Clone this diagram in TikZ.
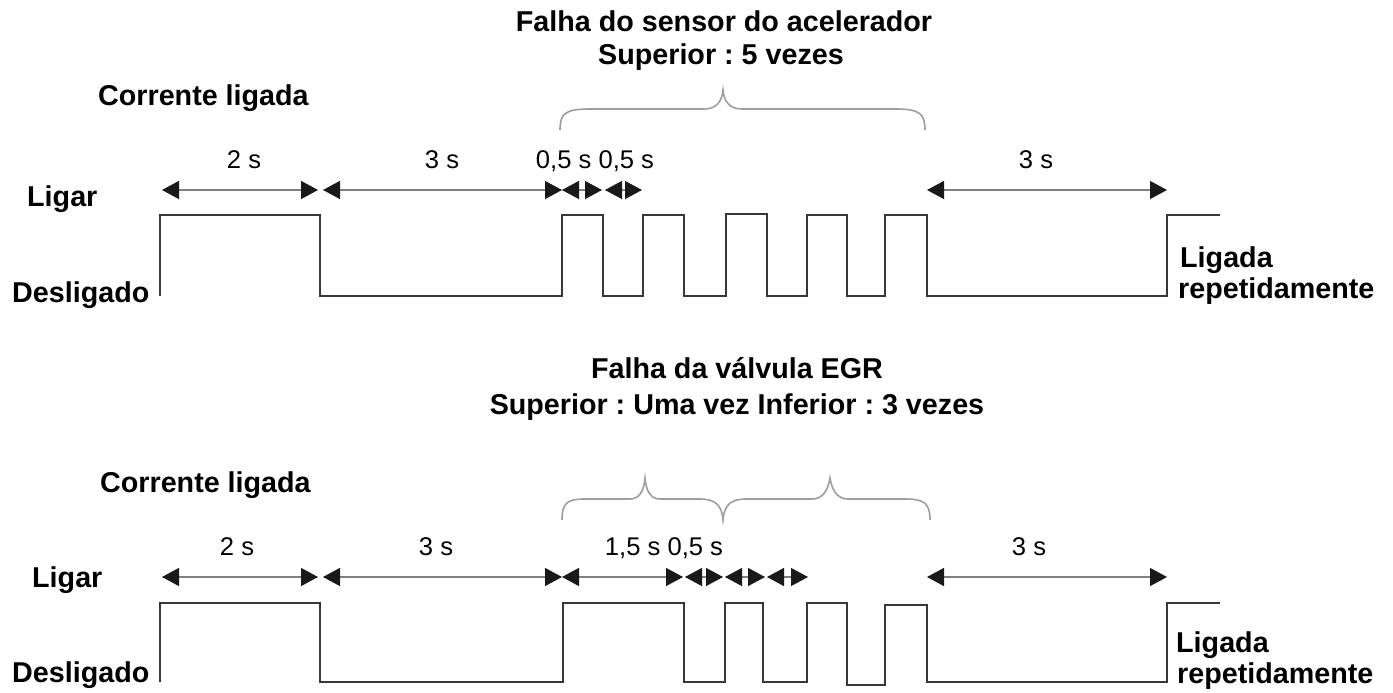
\documentclass[tikz,border=0pt]{standalone}
\usepackage{fontspec}
\setmainfont{Liberation Sans}
\frenchspacing
\usetikzlibrary{arrows.meta}
\tikzset{
  boldlbl/.style={font=\fontsize{28.7}{31}\selectfont\bfseries, inner sep=0pt, anchor=base west},
  titlelbl/.style={font=\fontsize{28.7}{31}\selectfont\bfseries, inner sep=0pt, anchor=base},
  durlbl/.style={font=\fontsize{25.6}{28}\selectfont, inner sep=0pt, anchor=base},
  dimline/.style={draw=black!50, line width=1.3pt,
    {Triangle[length=17pt,width=18pt,color=black!90]}-{Triangle[length=17pt,width=18pt,color=black!90]}},
  wave/.style={draw=black!78, line width=2.6pt, line join=miter},
  bracecurve/.style={draw=black!38, line width=1.6pt},
}
\begin{document}
\begin{tikzpicture}[x=1pt,y=-1pt]
\useasboundingbox[fill=white] (0,0) rectangle (1393,693);

% ================= TOP DIAGRAM =================
\node[titlelbl] (t1) at (724,32) {Falha do sensor do acelerador};
\node[titlelbl] (t2) at (721,65) {Superior : 5 vezes};
\node[boldlbl] (tcor) at (98,106) {Corrente ligada};
\node[boldlbl] (tlig) at (27,206) {Ligar};
\node[boldlbl] (tdes) at (12,302) {Desligado};
\node[boldlbl] (tlr1) at (1180,267) {Ligada};
\node[boldlbl] (tlr2) at (1178,298) {repetidamente};

\node[durlbl] (td1) at (244,168) {2 s};
\node[durlbl] (td2) at (442,168) {3 s};
\node[durlbl] (td3) at (595,168) {0,5 s 0,5 s};
\node[durlbl] (td4) at (1036,168) {3 s};

% dimension arrows
\coordinate (ta0) at (162,190);
\coordinate (ta1) at (318,190);
\coordinate (ta2) at (323,190);
\coordinate (ta3) at (562,190);
\coordinate (ta4) at (602,190);
\coordinate (ta5) at (605,190);
\coordinate (ta6) at (642,190);
\coordinate (ta7) at (927,190);
\coordinate (ta8) at (1167,190);
\draw[dimline] (ta0) -- (ta1);
\draw[dimline] (ta2) -- (ta3);
\draw[dimline] (ta3) -- (ta4);
\draw[dimline] (ta5) -- (ta6);
\draw[dimline] (ta7) -- (ta8);

% brace
\draw[bracecurve] (560,130) .. controls (560,113) and (566,109) .. (590,109)
  -- (704,109) .. controls (717,109) and (722,101) .. (723,90)
  .. controls (724,101) and (729,109) .. (742,109)
  -- (895,109) .. controls (919,109) and (925,113) .. (925,130);

% waveform
\draw[wave] (160,296) -- (160,215) -- (320,215) -- (320,296) -- (562,296)
  -- (562,215) -- (603,215) -- (603,296) -- (643,296) -- (643,215)
  -- (684,215) -- (684,296) -- (726,296) -- (726,214) -- (767,214)
  -- (767,296) -- (807,296) -- (807,215) -- (847,215) -- (847,296)
  -- (885,296) -- (885,215) -- (927,215) -- (927,296) -- (1167,296)
  -- (1167,215) -- (1220,215);

% ================= BOTTOM DIAGRAM =================
\node[titlelbl] (b1) at (737,378) {Falha da válvula EGR};
\node[titlelbl] (b2) at (737,414) {Superior : Uma vez Inferior : 3 vezes};
\node[boldlbl] (bcor) at (100,492) {Corrente ligada};
\node[boldlbl] (blig) at (32,587) {Ligar};
\node[boldlbl] (bdes) at (12,682) {Desligado};
\node[boldlbl] (blr1) at (1176,652) {Ligada};
\node[boldlbl] (blr2) at (1177,683) {repetidamente};

\node[durlbl] (bd1) at (237,555) {2 s};
\node[durlbl] (bd2) at (436,555) {3 s};
\node[durlbl] (bd3) at (664,555) {1,5 s 0,5 s};
\node[durlbl] (bd4) at (1029,555) {3 s};

\coordinate (ba0) at (162,577);
\coordinate (ba1) at (318,577);
\coordinate (ba2) at (323,577);
\coordinate (ba3) at (562,577);
\coordinate (ba4) at (683,577);
\coordinate (ba5) at (685,577);
\coordinate (ba6) at (723,577);
\coordinate (ba7) at (725,577);
\coordinate (ba8) at (765,577);
\coordinate (ba9) at (767,577);
\coordinate (ba10) at (808,577);
\coordinate (ba11) at (927,577);
\coordinate (ba12) at (1167,577);
\draw[dimline] (ba0) -- (ba1);
\draw[dimline] (ba2) -- (ba3);
\draw[dimline] (ba3) -- (ba4);
\draw[dimline] (ba5) -- (ba6);
\draw[dimline] (ba7) -- (ba8);
\draw[dimline] (ba9) -- (ba10);
\draw[dimline] (ba11) -- (ba12);

% braces
\draw[bracecurve] (562,520) .. controls (562,503) and (567,499) .. (585,499)
  -- (630,499) .. controls (640,499) and (644,490) .. (645,478)
  .. controls (646,490) and (650,499) .. (660,499)
  -- (700,499) .. controls (716,499) and (722,506) .. (723,520)
  .. controls (724,506) and (730,499) .. (746,499)
  -- (812,499) .. controls (823,499) and (828,490) .. (830,478)
  .. controls (832,490) and (837,499) .. (848,499)
  -- (905,499) .. controls (924,499) and (930,503) .. (930,520);

\draw[wave] (160,682) -- (160,603) -- (320,603) -- (320,682) -- (563,682)
  -- (563,603) -- (684,603) -- (684,682) -- (725,682) -- (725,603)
  -- (763,603) -- (763,682) -- (807,682) -- (807,603) -- (847,603)
  -- (847,685) -- (885,685) -- (885,605) -- (927,605) -- (927,682)
  -- (1167,682) -- (1167,603) -- (1220,603);
\end{tikzpicture}
\end{document}
